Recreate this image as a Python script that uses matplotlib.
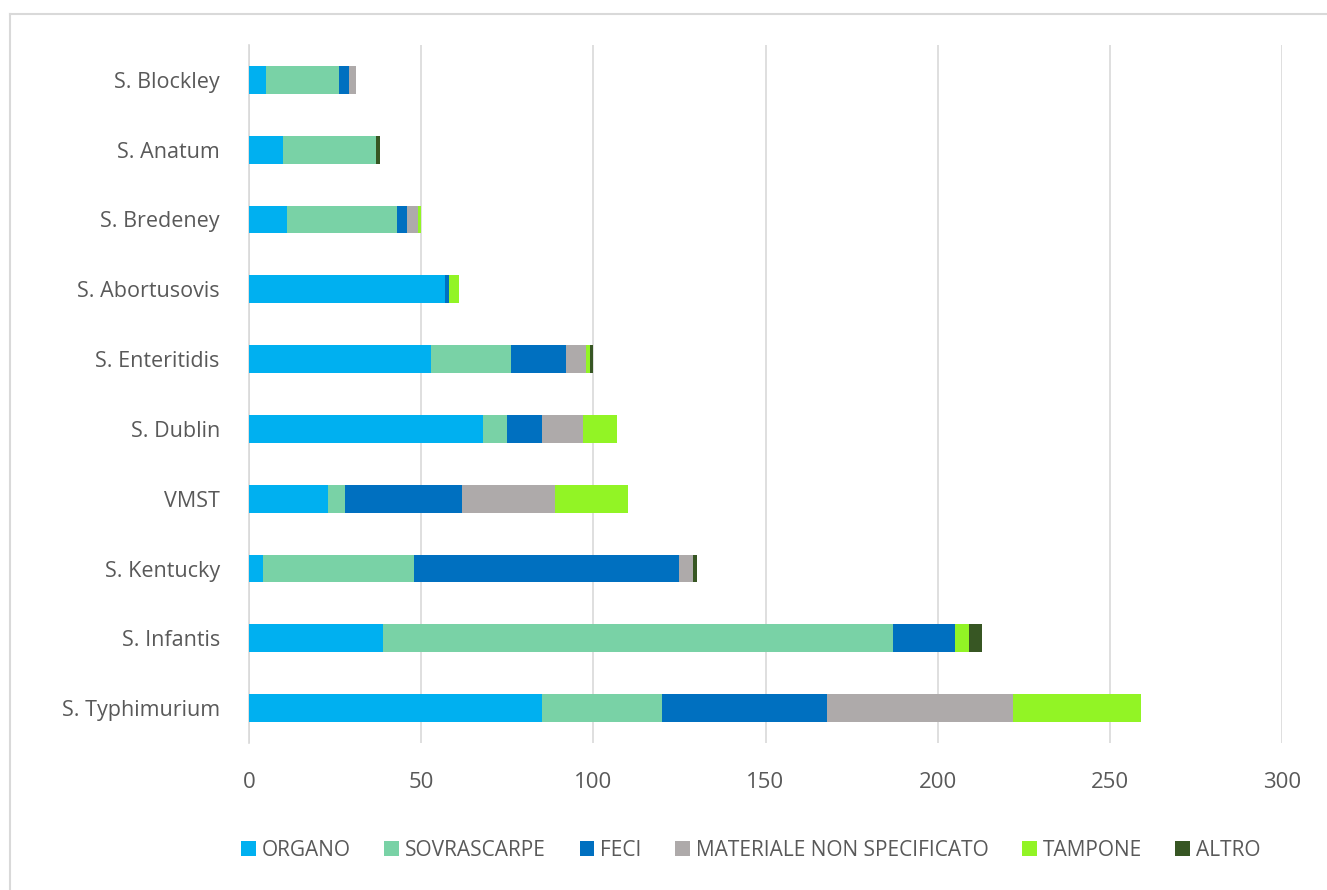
import numpy as np
import matplotlib.pyplot as plt
from matplotlib.lines import Line2D

plt.rcParams['font.family'] = ['Open Sans', 'DejaVu Sans']

# categories, bottom to top as drawn
serovars = ['S. Typhimurium', 'S. Infantis', 'S. Kentucky', 'VMST', 'S. Dublin',
            'S. Enteritidis', 'S. Abortusovis', 'S. Bredeney', 'S. Anatum', 'S. Blockley']

organo       = [85, 39, 4, 23, 68, 53, 57, 11, 10, 5]
sovrascarpe  = [35, 148, 44, 5, 7, 23, 0, 32, 27, 21]
feci         = [48, 18, 77, 34, 10, 16, 1, 3, 0, 3]
materiale    = [54, 0, 4, 27, 12, 6, 0, 3, 0, 2]
tampone      = [37, 4, 0, 21, 10, 1, 3, 1, 0, 0]
altro        = [0, 4, 1, 0, 0, 1, 0, 0, 1, 0]

series_names = ['ORGANO', 'SOVRASCARPE', 'FECI', 'MATERIALE NON SPECIFICATO', 'TAMPONE', 'ALTRO']
series_vals = [organo, sovrascarpe, feci, materiale, tampone, altro]
colors = ['#00b0f0', '#79d2a6', '#0070c0', '#aeaaaa', '#92f425', '#375623']

fig = plt.figure(figsize=(13.27, 8.9), dpi=100)
ax = fig.add_axes([249/1327, 1 - 743/890, (1282 - 249)/1327, (743 - 45)/890])

# chart border like Excel (only top and left edges visible)
bx, by = 10/1327, 1 - 14/890
fig.add_artist(Line2D([bx, 1.0], [by, by], transform=fig.transFigure,
                      color='#d9d9d9', linewidth=1.5))
fig.add_artist(Line2D([bx, bx], [0.0, by], transform=fig.transFigure,
                      color='#d9d9d9', linewidth=1.5))

y = np.arange(len(serovars))
left = np.zeros(len(serovars))
for name, vals, c in zip(series_names, series_vals, colors):
    vals = np.array(vals, dtype=float)
    ax.barh(y, vals, left=left, height=0.4, color=c, label=name, zorder=3)
    left += vals

ax.set_xlim(0, 300)
ax.set_ylim(-0.5, len(serovars) - 0.5)
ax.set_xticks(np.arange(0, 301, 50))
ax.set_yticks(y)
ax.set_yticklabels(serovars)
ax.xaxis.grid(True, color='#d9d9d9', linewidth=1.2, zorder=0)
for s in ['top', 'right', 'bottom']:
    ax.spines[s].set_visible(False)
ax.spines['left'].set_color('#d9d9d9')
ax.spines['left'].set_linewidth(1.2)
ax.tick_params(axis='both', length=0, labelcolor='#595959')
ax.tick_params(axis='x', labelsize=16, pad=21)
ax.tick_params(axis='y', labelsize=15.5, pad=21)

fig.legend(loc='center', bbox_to_anchor=(751/1327, 1 - 850/890), ncol=6,
           frameon=False, fontsize=15, handlelength=0.7, handleheight=0.7,
           handletextpad=0.3, columnspacing=1.6, labelcolor='#595959')

fig.savefig('out.png', dpi=100, facecolor='white')
